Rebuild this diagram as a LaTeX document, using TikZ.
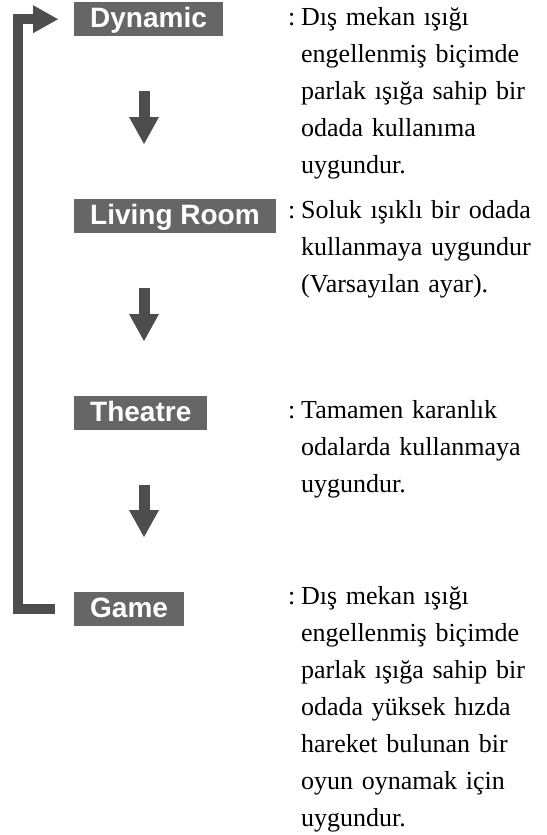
\documentclass[tikz,border=0pt]{standalone}
\usepackage{fontspec}
\setmainfont{Liberation Serif}
\setsansfont{Liberation Sans}
\usepackage{xcolor}
\definecolor{BoxGray}{HTML}{666666}
\definecolor{ArrowGray}{HTML}{4D4D4D}
\usepackage{tikz}
\usetikzlibrary{arrows.meta,positioning}
\newcommand{\modetext}[1]{\leftskip=13pt\hspace*{-13pt}\makebox[13pt][l]{:}#1\par}

\begin{document}
\begin{tikzpicture}[
  x=1pt,y=-1pt,
  modebox/.style={fill=BoxGray,text=white,anchor=north west,inner xsep=16pt,inner ysep=6pt,text height=19pt,text depth=3pt,font=\sffamily\bfseries\fontsize{28}{30}\selectfont},
  desc/.style={anchor=base west,text width=300pt,align=left,inner sep=0pt,font=\fontsize{26}{37}\selectfont},
  downarrow/.style={draw=ArrowGray,line width=11pt,-{Triangle[width=30pt,length=27pt,line width=0pt]}},
  looparrow/.style={draw=ArrowGray,line width=10pt,line join=miter,-{Triangle[width=28pt,length=25pt,line width=0pt]}}
]
  \useasboundingbox (0,0) rectangle (546,835);

  \node[modebox] (dynamic) at (74,2) {Dynamic};
  \node[modebox] (living) at (74,199) {Living Room};
  \node[modebox] (theatre) at (74,396) {Theatre};
  \node[modebox] (game) at (74,592) {Game};

  \node[desc] (dyndesc) at (288,25) {\modetext{Dış mekan ışığı\\engellenmiş biçimde\\parlak ışığa sahip bir\\odada kullanıma\\uygundur.}};
  \node[desc] (livdesc) at (288,218) {\modetext{Soluk ışıklı bir odada\\kullanmaya uygundur\\(Varsayılan ayar).}};
  \node[desc] (thedesc) at (288,418) {\modetext{Tamamen karanlık\\odalarda kullanmaya\\uygundur.}};
  \node[desc] (gamdesc) at (288,604) {\modetext{Dış mekan ışığı\\engellenmiş biçimde\\parlak ışığa sahip bir\\odada yüksek hızda\\hareket bulunan bir\\oyun oynamak için\\uygundur.}};

  \draw[downarrow] ([shift={(70pt,-55pt)}]dynamic.south west) -- ([shift={(70pt,55pt)}]living.north west);
  \draw[downarrow] ([shift={(70pt,-55pt)}]living.south west) -- ([shift={(70pt,55pt)}]theatre.north west);
  \draw[downarrow] ([shift={(70pt,-55pt)}]theatre.south west) -- ([shift={(70pt,55pt)}]game.north west);
  \draw[looparrow] ([xshift=-19pt]game.west) -- ++(-37pt,0) |- ([xshift=-16pt]dynamic.west);
\end{tikzpicture}
\end{document}
